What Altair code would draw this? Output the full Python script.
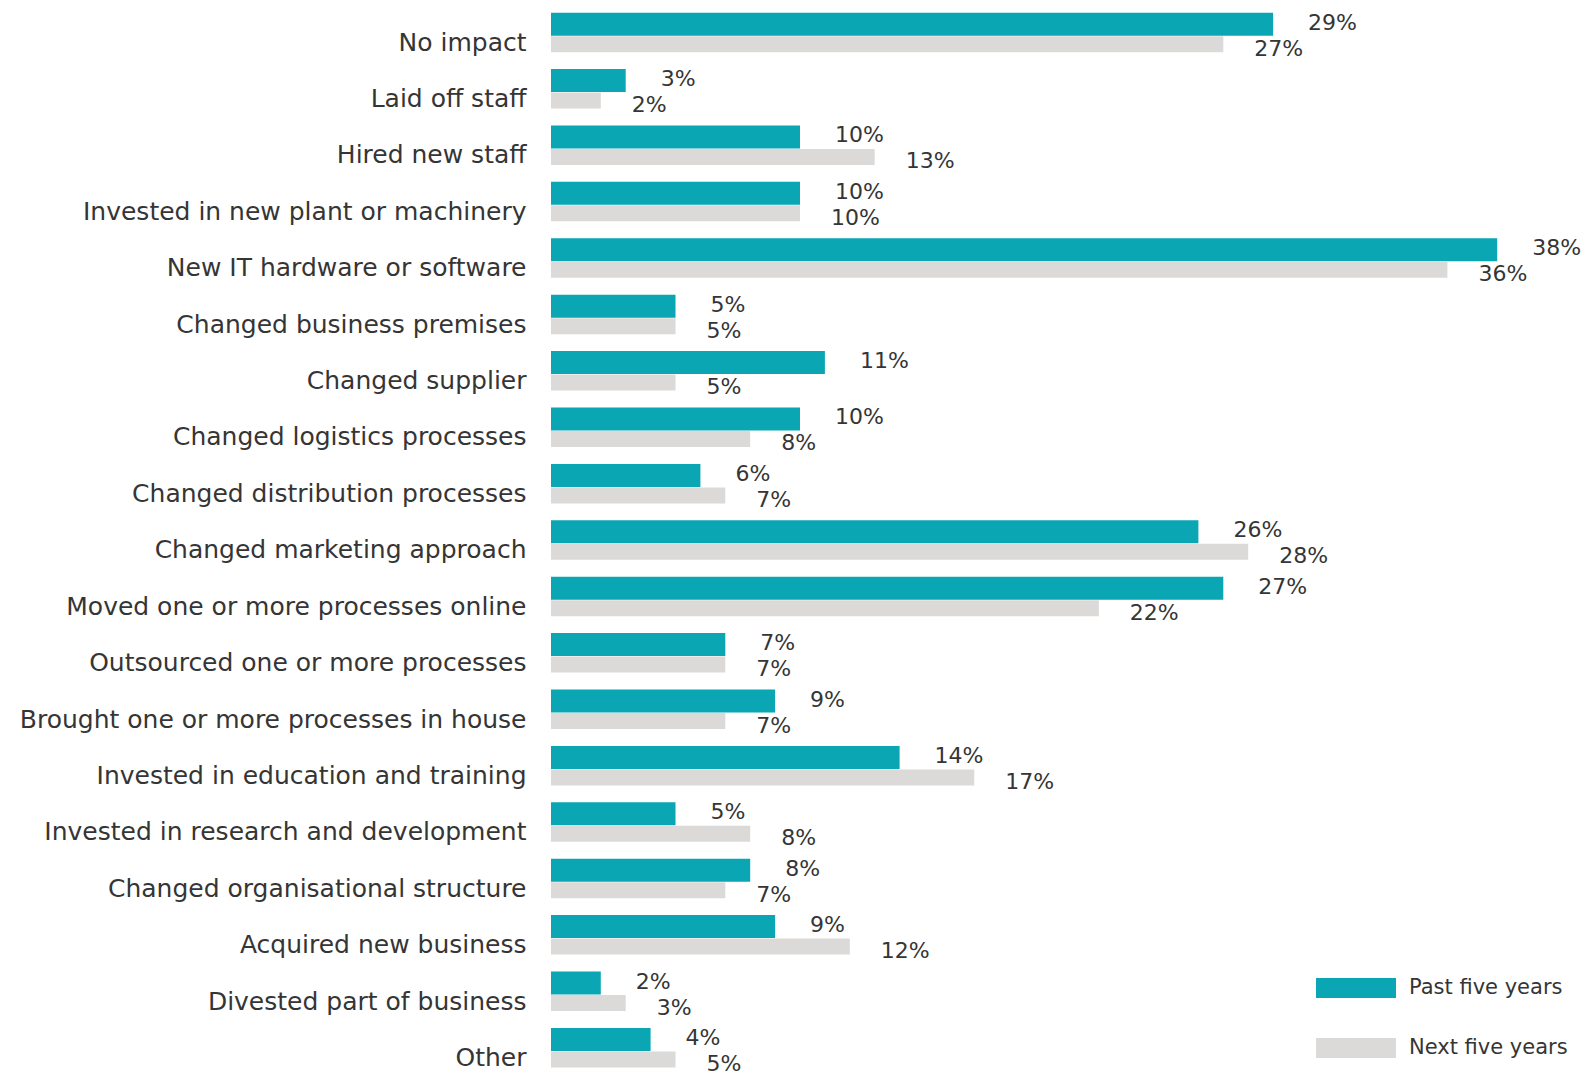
import altair as alt
import pandas as pd

categories = [
    "No impact", "Laid off staff", "Hired new staff",
    "Invested in new plant or machinery", "New IT hardware or software",
    "Changed business premises", "Changed supplier",
    "Changed logistics processes", "Changed distribution processes",
    "Changed marketing approach", "Moved one or more processes online",
    "Outsourced one or more processes", "Brought one or more processes in house",
    "Invested in education and training", "Invested in research and development",
    "Changed organisational structure", "Acquired new business",
    "Divested part of business", "Other",
]
past = [29, 3, 10, 10, 38, 5, 11, 10, 6, 26, 27, 7, 9, 14, 5, 8, 9, 2, 4]
future = [27, 2, 13, 10, 36, 5, 5, 8, 7, 28, 22, 7, 7, 17, 8, 7, 12, 3, 5]
series = ["Past five years", "Next five years"]
colors = ["#0aa6b4", "#dcdad8"]

rows = []
for c, p, f in zip(categories, past, future):
    rows.append({"cat": c, "series": series[0], "value": p, "label": f"{p}%"})
    rows.append({"cat": c, "series": series[1], "value": f, "label": f"{f}%"})
df = pd.DataFrame(rows)

FONT = "DejaVu Sans"
TXT = "#353535"

yscale = alt.Scale(paddingInner=0.23, paddingOuter=0.1, align=0.88)
y = alt.Y("cat:N", sort=categories, title=None, scale=yscale,
          axis=alt.Axis(domain=False, ticks=False, labelFontSize=25,
                        labelColor=TXT, labelFont=FONT, labelPadding=25,
                        labelOffset=9, labelLimit=800))
x = alt.X("value:Q", title=None, axis=None, scale=alt.Scale(domain=[0, 40]))
color = alt.Color("series:N", sort=series,
                  scale=alt.Scale(domain=series, range=colors),
                  legend=alt.Legend(
                      title=None, orient="none", legendX=785, legendY=966,
                      symbolType="M-2,-0.5H2V0.5H-2Z", symbolSize=1600,
                      symbolStrokeWidth=0, symbolOpacity=1,
                      labelFontSize=21, labelFont=FONT, labelColor=TXT,
                      labelOffset=33, rowPadding=30))

base = alt.Chart(df)
past_df = base.transform_filter(alt.datum.series == series[0])
next_df = base.transform_filter(alt.datum.series == series[1])

bars_past = past_df.mark_bar(height=23, yOffset=-9.5).encode(y=y, x=x, color=color)
bars_next = next_df.mark_bar(height=16, yOffset=10.5).encode(y=y, x=x, color=color)

yt = alt.Y("cat:N", sort=categories, scale=yscale)
text_past = past_df.mark_text(align="left", baseline="middle", dx=35, dy=-11,
                              fontSize=22, font=FONT, color=TXT).encode(
    y=yt, x="value:Q", text="label:N")
text_next = next_df.mark_text(align="left", baseline="middle", dx=31, dy=15,
                              fontSize=22, font=FONT, color=TXT).encode(
    y=yt, x="value:Q", text="label:N")

chart = (bars_past + bars_next + text_past + text_next).properties(
    width=996, height=1070,
    padding={"left": 19, "top": 2, "right": 0, "bottom": 0},
).configure(font=FONT).configure_view(strokeWidth=0)

chart.save("out.html", embed_options={"renderer": "svg", "actions": False})
